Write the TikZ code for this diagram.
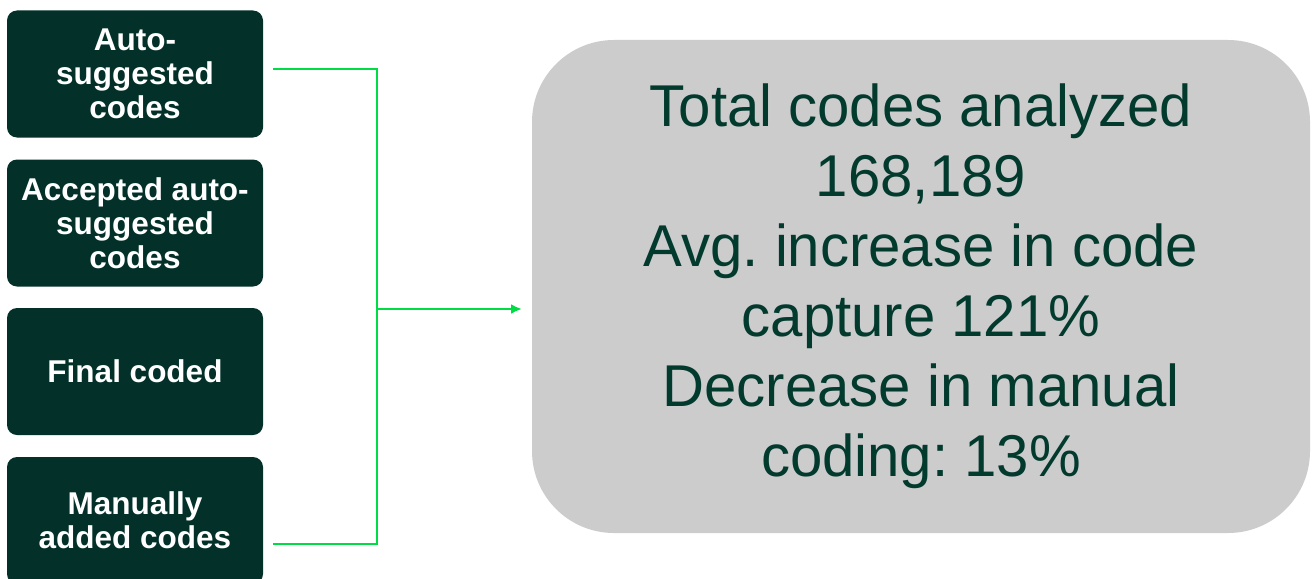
\documentclass[tikz,border=0pt]{standalone}
\usepackage{fontspec}
\setmainfont{Liberation Sans}
\newfontfamily\narrowfont[FakeStretch=0.985]{Liberation Sans}
\usetikzlibrary{arrows.meta}
\definecolor{darkbox}{HTML}{03312A}
\definecolor{graybox}{HTML}{CCCCCC}
\definecolor{linegreen}{HTML}{00DD44}
\definecolor{darktext}{HTML}{033A2E}
\frenchspacing
\begin{document}
\begin{tikzpicture}[x=1pt,y=-1pt,
  srcbox/.style={fill=darkbox, rounded corners=10pt, minimum width=256pt, minimum height=127pt,
    text=white, align=center, inner sep=0pt,
    font=\fontsize{31.5}{34}\selectfont\bfseries},
  resultbox/.style={fill=graybox, rounded corners=82pt, minimum width=778pt, minimum height=493pt,
    text=darktext, align=center, inner sep=0pt,
    font=\narrowfont\fontsize{59}{70}\selectfont},
  link/.style={draw=linegreen, line width=2.7pt},
  arrowlink/.style={link, -{Latex[length=11pt,width=10pt]}}]
\useasboundingbox (0,0) rectangle (1313,578);
\fill[white] (0,0) rectangle (1313,578);
\node[srcbox] (b1) at (135,74) {Auto-\\suggested\\codes};
\node[srcbox] (b2) at (135,223) {Accepted auto-\\suggested\\codes};
\node[srcbox] (b3) at (135,371.5) {Final coded};
\node[srcbox] (b4) at (135,520.5) {Manually\\added codes};
\node[resultbox] (r) at (921,286.5) {Total codes analyzed\\168,189\\Avg. increase in code\\capture 121\%\\Decrease in manual\\coding: 13\%};
\coordinate (s1) at ([xshift=10pt,yshift=5pt]b1.east);
\coordinate (s4) at ([xshift=10pt,yshift=-23.5pt]b4.east);
\coordinate (j1) at (377,69);
\coordinate (j4) at (377,544);
\coordinate (jm) at (377,309);
\coordinate (t) at (522,309);
\draw[link] (s1) -- (j1) -- (j4) -- (s4);
\draw[arrowlink] (jm) -- (t);
\end{tikzpicture}
\end{document}
